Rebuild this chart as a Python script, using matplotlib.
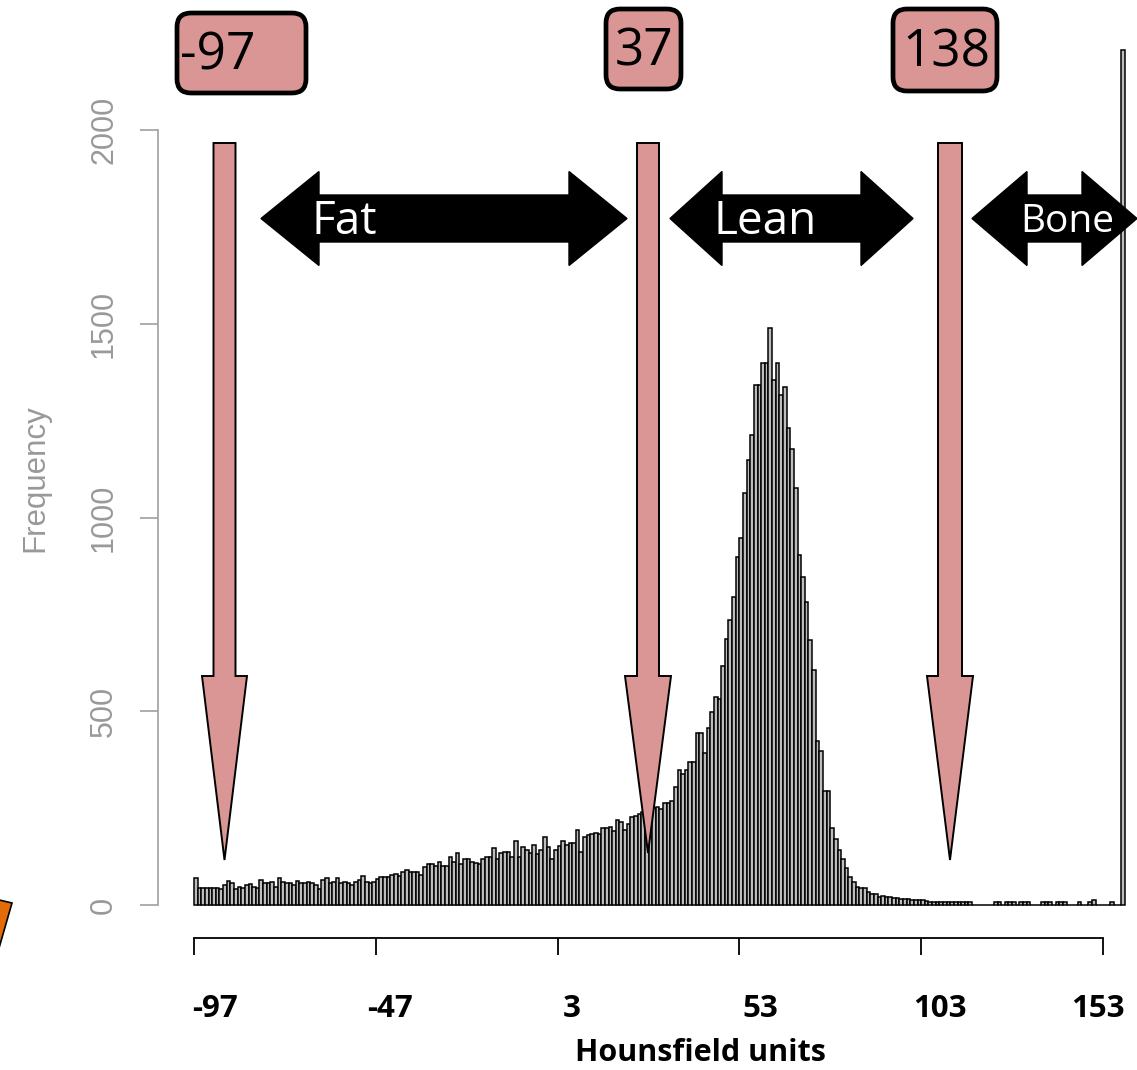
import matplotlib
matplotlib.use("Agg")
import matplotlib.pyplot as plt
from matplotlib.patches import Polygon, FancyBboxPatch
import numpy as np

# ---------------- data ----------------
hu_start = -97  # left edge of first 1-HU bin
counts_fat_region = [  # HU -97 .. -30
    69, 45, 45, 45, 45, 44, 44, 41, 51, 63, 58, 41, 47, 43, 51, 53, 47, 43, 65, 56,
    56, 60, 47, 69, 60, 56, 56, 51, 63, 56, 58, 60, 56, 51, 41, 64, 69, 56, 60, 69,
    56, 60, 58, 51, 60, 65, 75, 60, 56, 60, 67, 71, 73, 73, 77, 80, 75, 86, 90, 86,
    84, 84, 77, 99, 106, 106, 100, 112,
]
counts_mid_region = [  # HU -29 .. 50
    101, 101, 123, 112, 133, 106, 118, 118, 112, 108, 106, 120, 125, 125, 146, 118,
    133, 138, 138, 123, 166, 125, 149, 143, 133, 155, 131, 143, 176, 149, 118, 143,
    153, 166, 155, 161, 161, 194, 138, 176, 181, 183, 186, 183, 198, 198, 202, 192,
    219, 213, 194, 209, 228, 230, 236, 241, 244, 246, 250, 252, 247, 263, 263, 269,
    305, 348, 338, 348, 369, 369, 445, 445, 391, 456, 499, 538, 531, 617, 686, 735,
]
counts_peak_region = [  # HU 51 .. 104
    796, 898, 947, 1063, 1148, 1213, 1342, 1342, 1399, 1399, 1489, 1355, 1399, 1316,
    1338, 1231, 1177, 1076, 903, 846, 782, 684, 607, 424, 398, 294, 294, 198, 170,
    142, 118, 95, 73, 59, 47, 45, 43, 34, 28, 28, 21, 22, 20, 20, 18, 18, 16, 16,
    15, 14, 13, 13, 12, 11,
]
counts_tail_region = [  # HU 105 .. 158 (last bin collects everything above)
    8, 9, 8, 8, 9, 8, 8, 9, 8, 8, 8, 8, 0, 0, 0, 0, 0, 0, 8, 8, 0, 8, 8, 8, 0, 8,
    8, 8, 0, 0, 0, 8, 8, 8, 0, 8, 8, 8, 0, 0, 0, 8, 0, 0, 8, 14, 0, 0, 0, 0, 8, 0,
    0, 2206,
]
counts = counts_fat_region + counts_mid_region + counts_peak_region + counts_tail_region

x_ticks = [-97, -47, 3, 53, 103, 153]
x_tick_labels = ["-97", "-47", "3", "53", "103", "153"]
y_ticks = [0, 500, 1000, 1500, 2000]
y_tick_labels = ["0", "500", "1000", "1500", "2000"]
x_title = "Hounsfield units"
y_title = "Frequency"
cutoff_labels = ["-97", "37", "138"]
tissue_labels = ["Fat", "Lean", "Bone"]

# ---------------- layout ----------------
W, H = 1137, 1070
fig = plt.figure(figsize=(W / 100, H / 100), dpi=100)
PT = 72 / 100  # points per pixel


def fx(px):
    return px / W


def fy(py):
    return 1 - py / H


edges = hu_start + np.arange(len(counts) + 1)
x_left, x_right = edges[0], edges[-1]
px_per_hu = (1103 - 194) / (x_ticks[-1] - x_ticks[0])
right_px = 194 + (x_right - x_left) * px_per_hu

ax = fig.add_axes([fx(194), fy(905), fx(right_px) - fx(194), fy(130) - fy(905)])
ax.set_xlim(x_left, x_right)
ax.set_ylim(0, 2000)
ax.bar(edges[:-1], counts, width=1, align="edge", facecolor="#bdbdbd",
       edgecolor="black", linewidth=1.1, clip_on=False)

for s in ["top", "right"]:
    ax.spines[s].set_visible(False)
ax.spines["bottom"].set_position(("outward", 33 * PT))
ax.spines["bottom"].set_bounds(x_ticks[0], x_ticks[-1])
ax.spines["bottom"].set_linewidth(1.3)
ax.spines["left"].set_position(("outward", 36 * PT))
ax.spines["left"].set_bounds(y_ticks[0], y_ticks[-1])
ax.spines["left"].set_color("#a0a0a0")
ax.spines["left"].set_linewidth(1.2)

ax.set_xticks(x_ticks)
ax.set_xticklabels([])
ax.tick_params(axis="x", length=17 * PT, width=1.3, direction="out")
ax.set_yticks(y_ticks)
ax.set_yticklabels(y_tick_labels, rotation=90, va="center", ha="right",
                   fontsize=22, color="#999999", family="Liberation Sans")
ax.tick_params(axis="y", length=18 * PT, width=1.2, color="#a0a0a0",
               pad=21 * PT, direction="out")
ax.patch.set_alpha(0)

fig.text(fx(35), fy(478), y_title, rotation=90, ha="center", va="center",
         fontsize=22.5, color="#999999", family="Liberation Sans")

# bold relabelled x axis
label_px = [215, 390, 572, 760, 940, 1098]
for lab, px in zip(x_tick_labels, label_px):
    fig.text(fx(px), fy(1009), lab, ha="center", va="center", fontsize=22.5,
             fontweight="bold", family="Open Sans", color="black")
fig.text(fx(700), fy(1053), x_title, ha="center", va="center", fontsize=22,
         fontweight="bold", family="Open Sans", color="black")

# ---------------- annotation overlay (pixel coords) ----------------
ov = fig.add_axes([0, 0, 1, 1], zorder=5)
ov.set_xlim(0, W)
ov.set_ylim(H, 0)
ov.axis("off")
ov.patch.set_alpha(0)

PINK = "#d99694"


def down_arrow(xc, top, neck, tip, sw, hw):
    pts = [(xc - sw / 2, top), (xc + sw / 2, top), (xc + sw / 2, neck),
           (xc + hw / 2, neck), (xc, tip), (xc - hw / 2, neck), (xc - sw / 2, neck)]
    ov.add_patch(Polygon(pts, closed=True, facecolor=PINK, edgecolor="black",
                         linewidth=1.4, joinstyle="miter"))


down_arrow(224.5, 143, 676, 860, 22, 45)
down_arrow(648, 143, 676, 853, 22, 46)
down_arrow(950, 143, 676, 860, 24, 46)


def double_arrow(x0, x1, yc, hl, hh, bh):
    pts = [(x0, yc), (x0 + hl, yc - hh), (x0 + hl, yc - bh), (x1 - hl, yc - bh),
           (x1 - hl, yc - hh), (x1, yc), (x1 - hl, yc + hh), (x1 - hl, yc + bh),
           (x0 + hl, yc + bh), (x0 + hl, yc + hh)]
    ov.add_patch(Polygon(pts, closed=True, facecolor="black", edgecolor="black",
                         linewidth=1))


double_arrow(261, 627, 218.5, 58, 47, 23.5)
double_arrow(670, 913, 218.5, 52, 47, 23.5)
double_arrow(972, 1137, 218.5, 55, 47, 23.5)

ov.text(311, 222, tissue_labels[0], color="white", fontsize=33, family="Open Sans",
        ha="left", va="center")
ov.text(713, 222, tissue_labels[1], color="white", fontsize=33, family="Open Sans",
        ha="left", va="center")
ov.text(1020, 222, tissue_labels[2], color="white", fontsize=28, family="Open Sans",
        ha="left", va="center")

# rounded label boxes
boxes = [(177, 13, 306, 93), (606, 9, 681, 89), (893, 9, 997, 91)]
text_x = [180, 615, 902]
for (x0, y0, x1, y1), lab, tx in zip(boxes, cutoff_labels, text_x):
    ov.add_patch(FancyBboxPatch((x0 + 12, y0 + 12), (x1 - x0) - 24, (y1 - y0) - 24,
                                boxstyle="round,pad=12,rounding_size=14",
                                facecolor=PINK, edgecolor="black", linewidth=3.4))
    ov.text(tx, (y0 + y1) / 2 + 3, lab, color="black", fontsize=37,
            family="Open Sans", ha="left", va="center")

# orange fragment at bottom-left
ov.add_patch(Polygon([(-5, 899), (12, 903), (-5, 962)], closed=True,
                     facecolor="#e36c09", edgecolor="black", linewidth=1.2))

fig.savefig("out.png", dpi=100)
